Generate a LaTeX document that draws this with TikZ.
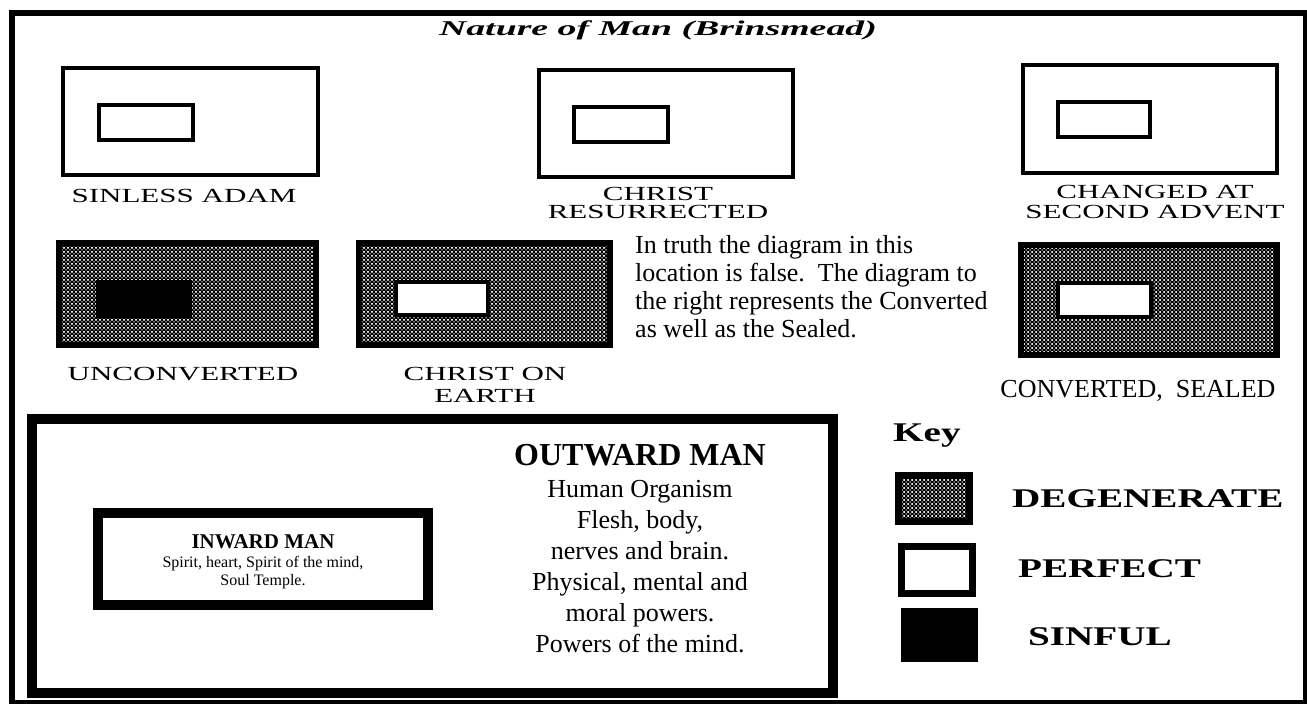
\documentclass[tikz,border=0pt]{standalone}
\usepackage{fontspec}
\setmainfont{Liberation Serif}
\newfontfamily\capsfont[FakeStretch=1.55]{Liberation Serif}
\newfontfamily\keyfont[FakeStretch=1.45]{Liberation Serif}
\newfontfamily\titlefont[FakeStretch=1.8]{Liberation Serif}
\usetikzlibrary{patterns}
\pgfdeclarepatternformonly{degen}{\pgfqpoint{-1pt}{-1pt}}{\pgfqpoint{5pt}{5pt}}{\pgfqpoint{4pt}{4pt}}{%
  \pgfpathcircle{\pgfqpoint{0pt}{0pt}}{0.75pt}%
  \pgfpathcircle{\pgfqpoint{2pt}{2pt}}{0.75pt}%
  \pgfpathcircle{\pgfqpoint{4pt}{0pt}}{0.75pt}%
  \pgfpathcircle{\pgfqpoint{0pt}{4pt}}{0.75pt}%
  \pgfpathcircle{\pgfqpoint{4pt}{4pt}}{0.75pt}%
  \pgfusepath{fill}}
\tikzset{
  whitebox/.style={draw, line width=4pt, fill=white},
  innerbox/.style={draw, line width=4pt, fill=white},
  degenbox/.style={draw, line width=6pt, preaction={fill=black}, pattern=degen, pattern color=white},
  sinbox/.style={draw, line width=1pt, fill=black},
  bigbox/.style={draw, line width=10pt, fill=white},
  caplabel/.style={font=\capsfont\fontsize{20}{22}\selectfont, anchor=base, inner sep=0pt},
  bodytext/.style={font=\fontsize{26}{28}\selectfont, anchor=base west, inner sep=0pt},
  outtext/.style={font=\fontsize{26}{28}\selectfont, anchor=base, inner sep=0pt},
  intext/.style={font=\fontsize{16}{18}\selectfont, anchor=base, inner sep=0pt},
  keylabel/.style={font=\keyfont\bfseries\fontsize{27}{29}\selectfont, anchor=base west, inner sep=0pt},
}
\begin{document}
\begin{tikzpicture}[x=1pt,y=-1pt]
\useasboundingbox (0,0) rectangle (1307,704);
\fill[white] (0,0) rectangle (1307,704);
% frame
\draw[line width=6pt] (12,13) rectangle (1306,703);
% title
\node[font=\titlefont\bfseries\itshape\fontsize{21}{23}\selectfont, anchor=base, inner sep=0pt] (title) at (658,35) {Nature of Man (Brinsmead)};
% row 1
\draw[whitebox] (63,68) rectangle (318,175);
\draw[innerbox] (99,105) rectangle (193,140);
\node[caplabel] (adam) at (184,202) {SINLESS ADAM};
\draw[whitebox] (539,70) rectangle (793,177);
\draw[innerbox] (574,107) rectangle (668,142);
\node[caplabel] (res1) at (658,200) {CHRIST};
\node[caplabel] (res2) at (658,218) {RESURRECTED};
\draw[whitebox] (1023,65) rectangle (1277,173);
\draw[innerbox] (1058,102) rectangle (1150,137);
\node[caplabel] (chg1) at (1155,198) {CHANGED AT};
\node[caplabel] (chg2) at (1155,218) {SECOND ADVENT};
% row 2
\draw[degenbox] (59,243) rectangle (316,345);
\draw[sinbox] (96,280) rectangle (191,317);
\node[caplabel] (uncon) at (183,380) {UNCONVERTED};
\draw[degenbox] (359,243) rectangle (610,345);
\draw[innerbox] (396,282) rectangle (488,315);
\node[caplabel] (coe1) at (485,380) {CHRIST ON};
\node[caplabel] (coe2) at (485,402) {EARTH};
\node[bodytext] (t1) at (635,253) {In truth the diagram in this};
\node[bodytext] (t2) at (635,281) {location is false.\ \ The diagram to};
\node[bodytext] (t3) at (635,309) {the right represents the Converted};
\node[bodytext] (t4) at (635,337) {as well as the Sealed.};
\draw[degenbox] (1021,245) rectangle (1277,355);
\draw[innerbox] (1058,283) rectangle (1151,317);
\node[font=\fontsize{26}{28}\selectfont, anchor=base, inner sep=0pt] (conv) at (1138,397) {CONVERTED,\ \ SEALED};
% bottom big box
\draw[bigbox] (32,419) rectangle (833,693);
\draw[bigbox] (98,513) rectangle (428,605);
\node[font=\bfseries\fontsize{21}{23}\selectfont, anchor=base, inner sep=0pt] (inw) at (263,548) {INWARD MAN};
\node[intext] (in1) at (263,567) {Spirit, heart, Spirit of the mind,};
\node[intext] (in2) at (263,585) {Soul Temple.};
\node[font=\bfseries\fontsize{32}{34}\selectfont, anchor=base, inner sep=0pt] (outw) at (640,465) {OUTWARD MAN};
\node[outtext] (o1) at (640,497) {Human Organism};
\node[outtext] (o2) at (640,528) {Flesh, body,};
\node[outtext] (o3) at (640,559) {nerves and brain.};
\node[outtext] (o4) at (640,590) {Physical, mental and};
\node[outtext] (o5) at (640,621) {moral powers.};
\node[outtext] (o6) at (640,652) {Powers of the mind.};
% key
\node[keylabel] (key) at (893,441) {Key};
\draw[degenbox, line width=7pt] (898.5,475.5) rectangle (969.5,521.5);
\node[keylabel] (kdeg) at (1012,507) {DEGENERATE};
\draw[whitebox, line width=7pt] (901.5,546.5) rectangle (972.5,593.5);
\node[keylabel] (kper) at (1018,577) {PERFECT};
\draw[sinbox] (901.5,608.5) rectangle (977.5,661.5);
\node[keylabel] (ksin) at (1028,645) {SINFUL};
\end{tikzpicture}
\end{document}
